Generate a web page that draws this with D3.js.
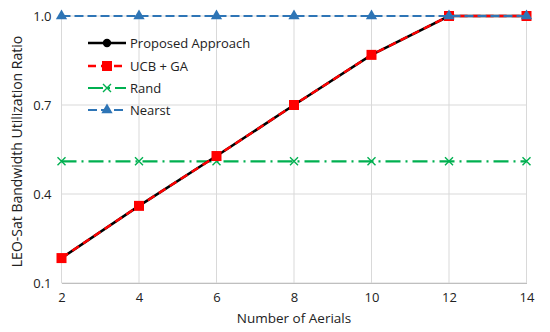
<!DOCTYPE html>
<html>
<head>
<meta charset="utf-8">
<script src="https://cdn.jsdelivr.net/npm/d3@7"></script>
<style>
  body { margin: 0; background: #fff; }
  text { font-family: "Open Sans", "Noto Sans", sans-serif; fill: #222; }
</style>
</head>
<body>
<div id="chart"></div>
<script>
// data
const aerials = [2, 4, 6, 8, 10, 12, 14];
const proposed = [0.184, 0.36, 0.528, 0.70, 0.869, 1.0, 1.0];
const ucbGa = [0.184, 0.36, 0.528, 0.70, 0.869, 1.0, 1.0];
const rand = [0.51, 0.51, 0.51, 0.51, 0.51, 0.51, 0.51];
const nearst = [1.0, 1.0, 1.0, 1.0, 1.0, 1.0, 1.0];
const yTicks = [0.1, 0.4, 0.7, 1.0];
const seriesNames = ["Proposed Approach", "UCB + GA", "Rand", "Nearst"];

const width = 550, height = 332;
const margin = { top: 16, right: 23.5, bottom: 49, left: 61.5 };

const svg = d3.select("#chart").append("svg")
  .attr("width", width)
  .attr("height", height);

const x = d3.scaleLinear()
  .domain([2, 14])
  .range([margin.left, width - margin.right]);

const y = d3.scaleLinear()
  .domain([0.1, 1.0])
  .range([height - margin.bottom, margin.top]);

// grid
svg.append("g")
  .selectAll("line.vg")
  .data(aerials)
  .enter().append("line")
  .attr("x1", d => x(d)).attr("x2", d => x(d))
  .attr("y1", y(1.0)).attr("y2", y(0.1))
  .attr("stroke", "#d9d9d9").attr("stroke-width", 1);

svg.append("g")
  .selectAll("line.hg")
  .data(yTicks)
  .enter().append("line")
  .attr("x1", x(2)).attr("x2", x(14))
  .attr("y1", d => y(d)).attr("y2", d => y(d))
  .attr("stroke", "#d9d9d9").attr("stroke-width", 1);

// axes
const xAxis = svg.append("g")
  .attr("transform", "translate(0," + y(0.1) + ")")
  .call(d3.axisBottom(x).tickValues(aerials).tickSize(0).tickPadding(10).tickFormat(d3.format("d")));
xAxis.select(".domain").attr("stroke", "#bfbfbf");
xAxis.selectAll("text").style("font-size", "13px");

const yAxis = svg.append("g")
  .attr("transform", "translate(" + x(2) + ",0)")
  .call(d3.axisLeft(y).tickValues(yTicks).tickSize(0).tickPadding(10).tickFormat(d3.format(".1f")));
yAxis.select(".domain").remove();
yAxis.selectAll("text").style("font-size", "13px");

svg.append("text")
  .attr("x", (x(2) + x(14)) / 2)
  .attr("y", 323)
  .attr("text-anchor", "middle")
  .style("font-size", "13.5px")
  .text("Number of Aerials");

svg.append("text")
  .attr("transform", "translate(22," + ((y(0.1) + y(1.0)) / 2 + 2) + ") rotate(-90)")
  .attr("text-anchor", "middle")
  .style("font-size", "14px")
  .text("LEO-Sat Bandwidth Utilization Ratio");

const styles = [
  { color: "#000000", width: 2.6, dash: null, marker: "circle" },
  { color: "#ff0000", width: 2.4, dash: "8,5", marker: "square" },
  { color: "#00b050", width: 2.2, dash: "15,5,2,5", marker: "cross" },
  { color: "#2e75b6", width: 1.8, dash: "9,4", marker: "triangle" }
];

const allSeries = [proposed, ucbGa, rand, nearst];

function drawMarker(g, type, color) {
  if (type === "circle") {
    g.append("circle").attr("r", 4.2).attr("fill", color);
  } else if (type === "square") {
    g.append("rect").attr("x", -5).attr("y", -5).attr("width", 10).attr("height", 10).attr("fill", color);
  } else if (type === "cross") {
    g.append("path").attr("d", "M-4,-4L4,4M-4,4L4,-4")
      .attr("stroke", color).attr("stroke-width", 1.4).attr("fill", "none");
  } else if (type === "triangle") {
    g.append("path").attr("d", d3.symbol().type(d3.symbolTriangle).size(55)())
      .attr("fill", color);
  }
}

const line = d3.line()
  .x((d, i) => x(aerials[i]))
  .y(d => y(d));

// drawing order: Rand, Proposed, UCB + GA, Nearst
[2, 0, 1, 3].forEach(k => {
  const s = styles[k];
  svg.append("path")
    .datum(allSeries[k])
    .attr("d", line)
    .attr("fill", "none")
    .attr("stroke", s.color)
    .attr("stroke-width", s.width)
    .attr("stroke-dasharray", s.dash);

  allSeries[k].forEach((v, i) => {
    const g = svg.append("g").attr("transform", "translate(" + x(aerials[i]) + "," + y(v) + ")");
    drawMarker(g, s.marker, s.color);
  });
});

// legend
const legendRows = [43, 66, 88, 110];
seriesNames.forEach((name, k) => {
  const s = styles[k];
  const g = svg.append("g").attr("transform", "translate(88," + legendRows[k] + ")");
  g.append("line")
    .attr("x1", 0).attr("x2", 38)
    .attr("stroke", s.color)
    .attr("stroke-width", s.width)
    .attr("stroke-dasharray", s.dash);
  const m = g.append("g").attr("transform", "translate(19,0)");
  drawMarker(m, s.marker, s.color);
  g.append("text")
    .attr("x", 42).attr("y", 4.5)
    .style("font-size", "13px")
    .text(name);
});
</script>
</body>
</html>
